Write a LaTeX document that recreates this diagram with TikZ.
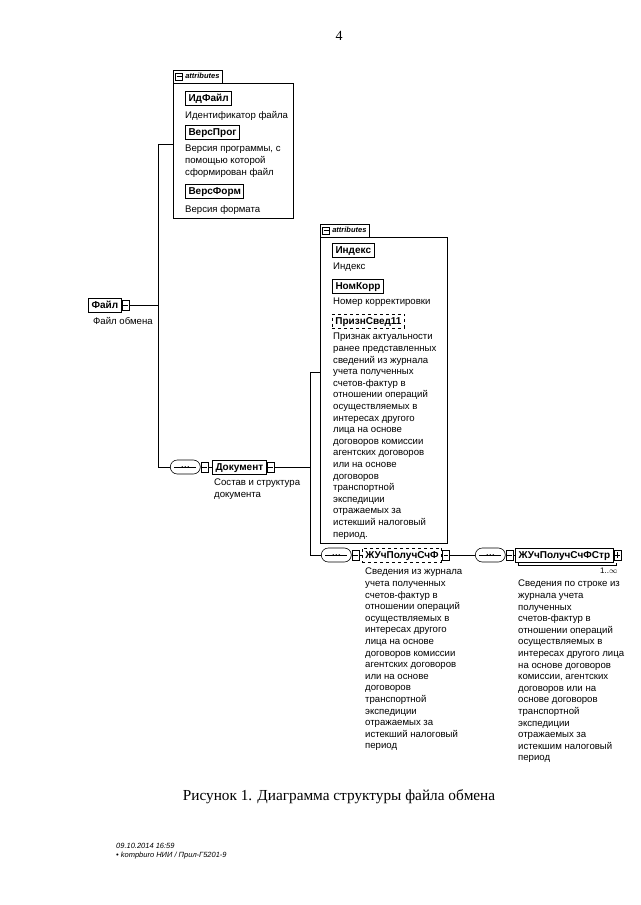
\documentclass[tikz,border=0pt]{standalone}
\usepackage{fontspec}
\setmainfont{Liberation Serif}
\setsansfont{Liberation Sans}
\usetikzlibrary{positioning}

\begin{document}
\begin{tikzpicture}[x=1pt,y=-1pt,
    elem/.style={draw,line width=1pt,font=\sffamily\bfseries\fontsize{10}{12}\selectfont,
        inner xsep=3pt,inner ysep=2.5pt,text height=7.5pt,text depth=1.5pt,minimum height=14pt,anchor=west},
    optelem/.style={elem,dashed,line width=0.7pt},
    desc/.style={anchor=north west,align=left,inner sep=0pt,font=\sffamily\fontsize{9.6}{11.6}\selectfont},
    conn/.style={draw,line width=0.5pt,inner sep=0pt,minimum width=7pt,minimum height=10pt,anchor=west,
        path picture={\draw ([xshift=1.3pt]path picture bounding box.west) -- ([xshift=-1.3pt]path picture bounding box.east);}},
    plusconn/.style={conn,
        path picture={\draw ([xshift=1.3pt]path picture bounding box.west) -- ([xshift=-1.3pt]path picture bounding box.east);
                      \draw ([yshift=-1.8pt]path picture bounding box.north) -- ([yshift=1.8pt]path picture bounding box.south);}},
    seq/.style={draw,line width=0.6pt,rounded corners=7pt,minimum width=30pt,minimum height=14pt,inner sep=0pt,
        path picture={\draw ([xshift=4pt]path picture bounding box.west) -- ([xshift=-4pt]path picture bounding box.east);
                      \foreach \d in {-3,0,3} \fill ([xshift=\d pt]path picture bounding box.center) circle (0.9pt);}},
    attbox/.style={draw,line width=0.5pt,inner sep=0pt,anchor=north west},
    tab/.style={draw,line width=0.5pt,anchor=south west,inner ysep=2pt,inner xsep=3pt,minimum height=13pt,
        font=\sffamily\bfseries\itshape\fontsize{7.5}{9}\selectfont,text height=6pt,text depth=1pt},
    minusbox/.style={draw,line width=0.5pt,inner sep=0pt,minimum size=7pt,
        path picture={\draw ([xshift=1pt]path picture bounding box.west) -- ([xshift=-1pt]path picture bounding box.east);}},
    line/.style={line width=0.7pt}]
    \useasboundingbox (0,0) rectangle (640,905);

    %page number
    \node[font=\fontsize{14}{16}\selectfont] (pnum) at (339,36) {4};

    %attributes of Файл
    \node[attbox,minimum width=120pt,minimum height=135pt] (attA) at (173,83) {};
    \node[tab] (tabA) at (173,83) {\hspace*{9pt}attributes};
    \node[minusbox] (mA) at ([xshift=6pt]tabA.west) {};
    \node[elem] (idfile) at (185,98) {ИдФайл};
    \node[desc] (idfiled) at (185,111) {Идентификатор файла};
    \node[elem] (versprog) at (185,132) {ВерсПрог};
    \node[desc] (versprogd) at (185,145) {Версия программы, с\\помощью которой\\сформирован файл};
    \node[elem] (versform) at (185,191) {ВерсФорм};
    \node[desc] (versformd) at (185,205) {Версия формата};

    %Файл
    \node[elem] (file) at (88,305) {Файл};
    \node[conn,right=0pt of file] (filecon) {};
    \node[desc] (filed) at (93,317) {Файл обмена};

    %Документ
    \coordinate (topL) at (158,144);
    \coordinate (botL) at (158,467);
    \node[seq,anchor=west] (seqA) at (170,467) {};
    \node[conn,right=0pt of seqA] (seqAcon) {};
    \node[elem] (doc) at (212,467) {Документ};
    \node[conn,right=0pt of doc] (doccon) {};
    \node[desc] (docd) at (214,479) {Состав и структура\\документа};
    \draw[line] (filecon.east) -- (filecon.east -| topL);
    \draw[line] (topL -| attA.west) -- (topL) -- (botL) -- (seqA.west);
    \draw[line] (seqAcon.east) -- (doc.west);

    %attributes of Документ
    \node[attbox,minimum width=127pt,minimum height=306pt] (attB) at (320,237) {};
    \node[tab] (tabB) at (320,237) {\hspace*{9pt}attributes};
    \node[minusbox] (mB) at ([xshift=6pt]tabB.west) {};
    \node[elem] (index) at (332,250) {Индекс};
    \node[desc] (indexd) at (333,263) {Индекс};
    \node[elem] (nomkorr) at (332,286) {НомКорр};
    \node[desc] (nomkorrd) at (333,298) {Номер корректировки};
    \node[optelem] (prizn) at (332,321) {ПризнСвед11};
    \node[desc] (prizned) at (333,333) {Признак актуальности\\ранее представленных\\сведений из журнала\\учета полученных\\счетов-фактур в\\отношении операций\\осуществляемых в\\интересах другого\\лица на основе\\договоров комиссии\\агентских договоров\\или на основе\\договоров\\транспортной\\экспедиции\\отражаемых за\\истекший налоговый\\период.};

    %ЖУчПолучСчФ
    \coordinate (topR) at (310,372);
    \coordinate (botR) at (310,555);
    \node[seq,anchor=west] (seqB) at (321,555) {};
    \node[conn,right=0pt of seqB] (seqBcon) {};
    \node[optelem] (zhuch) at (362,555) {ЖУчПолучСчФ};
    \node[conn,right=0pt of zhuch] (zhuchcon) {};
    \node[desc] (zhuchd) at (365,568) {Сведения из журнала\\учета полученных\\счетов-фактур в\\отношении операций\\осуществляемых в\\интересах другого\\лица на основе\\договоров комиссии\\агентских договоров\\или на основе\\договоров\\транспортной\\экспедиции\\отражаемых за\\истекший налоговый\\период};
    \draw[line] (doccon.east) -- (doccon.east -| topR);
    \draw[line] (topR -| attB.west) -- (topR) -- (botR) -- (seqB.west);
    \draw[line] (seqBcon.east) -- (zhuch.west);

    %ЖУчПолучСчФСтр
    \node[seq,anchor=west] (seqC) at (475,555) {};
    \node[conn,right=0pt of seqC] (seqCcon) {};
    \node[elem] (zhstr) at (515,555) {ЖУчПолучСчФСтр};
    \draw[line width=0.6pt] ([shift={(3,0)}]zhstr.south west) -- ([shift={(3,3)}]zhstr.south west)
        -- ([shift={(3,3)}]zhstr.south east) -- ([shift={(3,0)}]zhstr.south east);
    \node[plusconn,right=0pt of zhstr] (zhstrcon) {};
    \node[font=\sffamily\fontsize{8}{9}\selectfont,anchor=north east] (mult) at ([yshift=-4pt]zhstrcon.south east) {1..$\infty$};
    \node[desc] (zhstrd) at (518,580) {Сведения по строке из\\журнала учета\\полученных\\счетов-фактур в\\отношении операций\\осуществляемых в\\интересах другого лица\\на основе договоров\\комиссии, агентских\\договоров или на\\основе договоров\\транспортной\\экспедиции\\отражаемых за\\истекшим налоговый\\период};
    \draw[line] (zhuchcon.east) -- (seqC.west);
    \draw[line] (seqCcon.east) -- (zhstr.west);

    %caption and footer
    \node[font=\fontsize{15.3}{18}\selectfont] (caption) at (339,797) {Рисунок 1. Диаграмма структуры файла обмена};
    \node[anchor=west,inner sep=0pt,font=\sffamily\itshape\fontsize{7.5}{9}\selectfont,align=left] (foot) at (116,851) {09.10.2014 16:59\\\textbullet\ kompburo НИИ / Прил-Г5201-9};
\end{tikzpicture}
\end{document}
